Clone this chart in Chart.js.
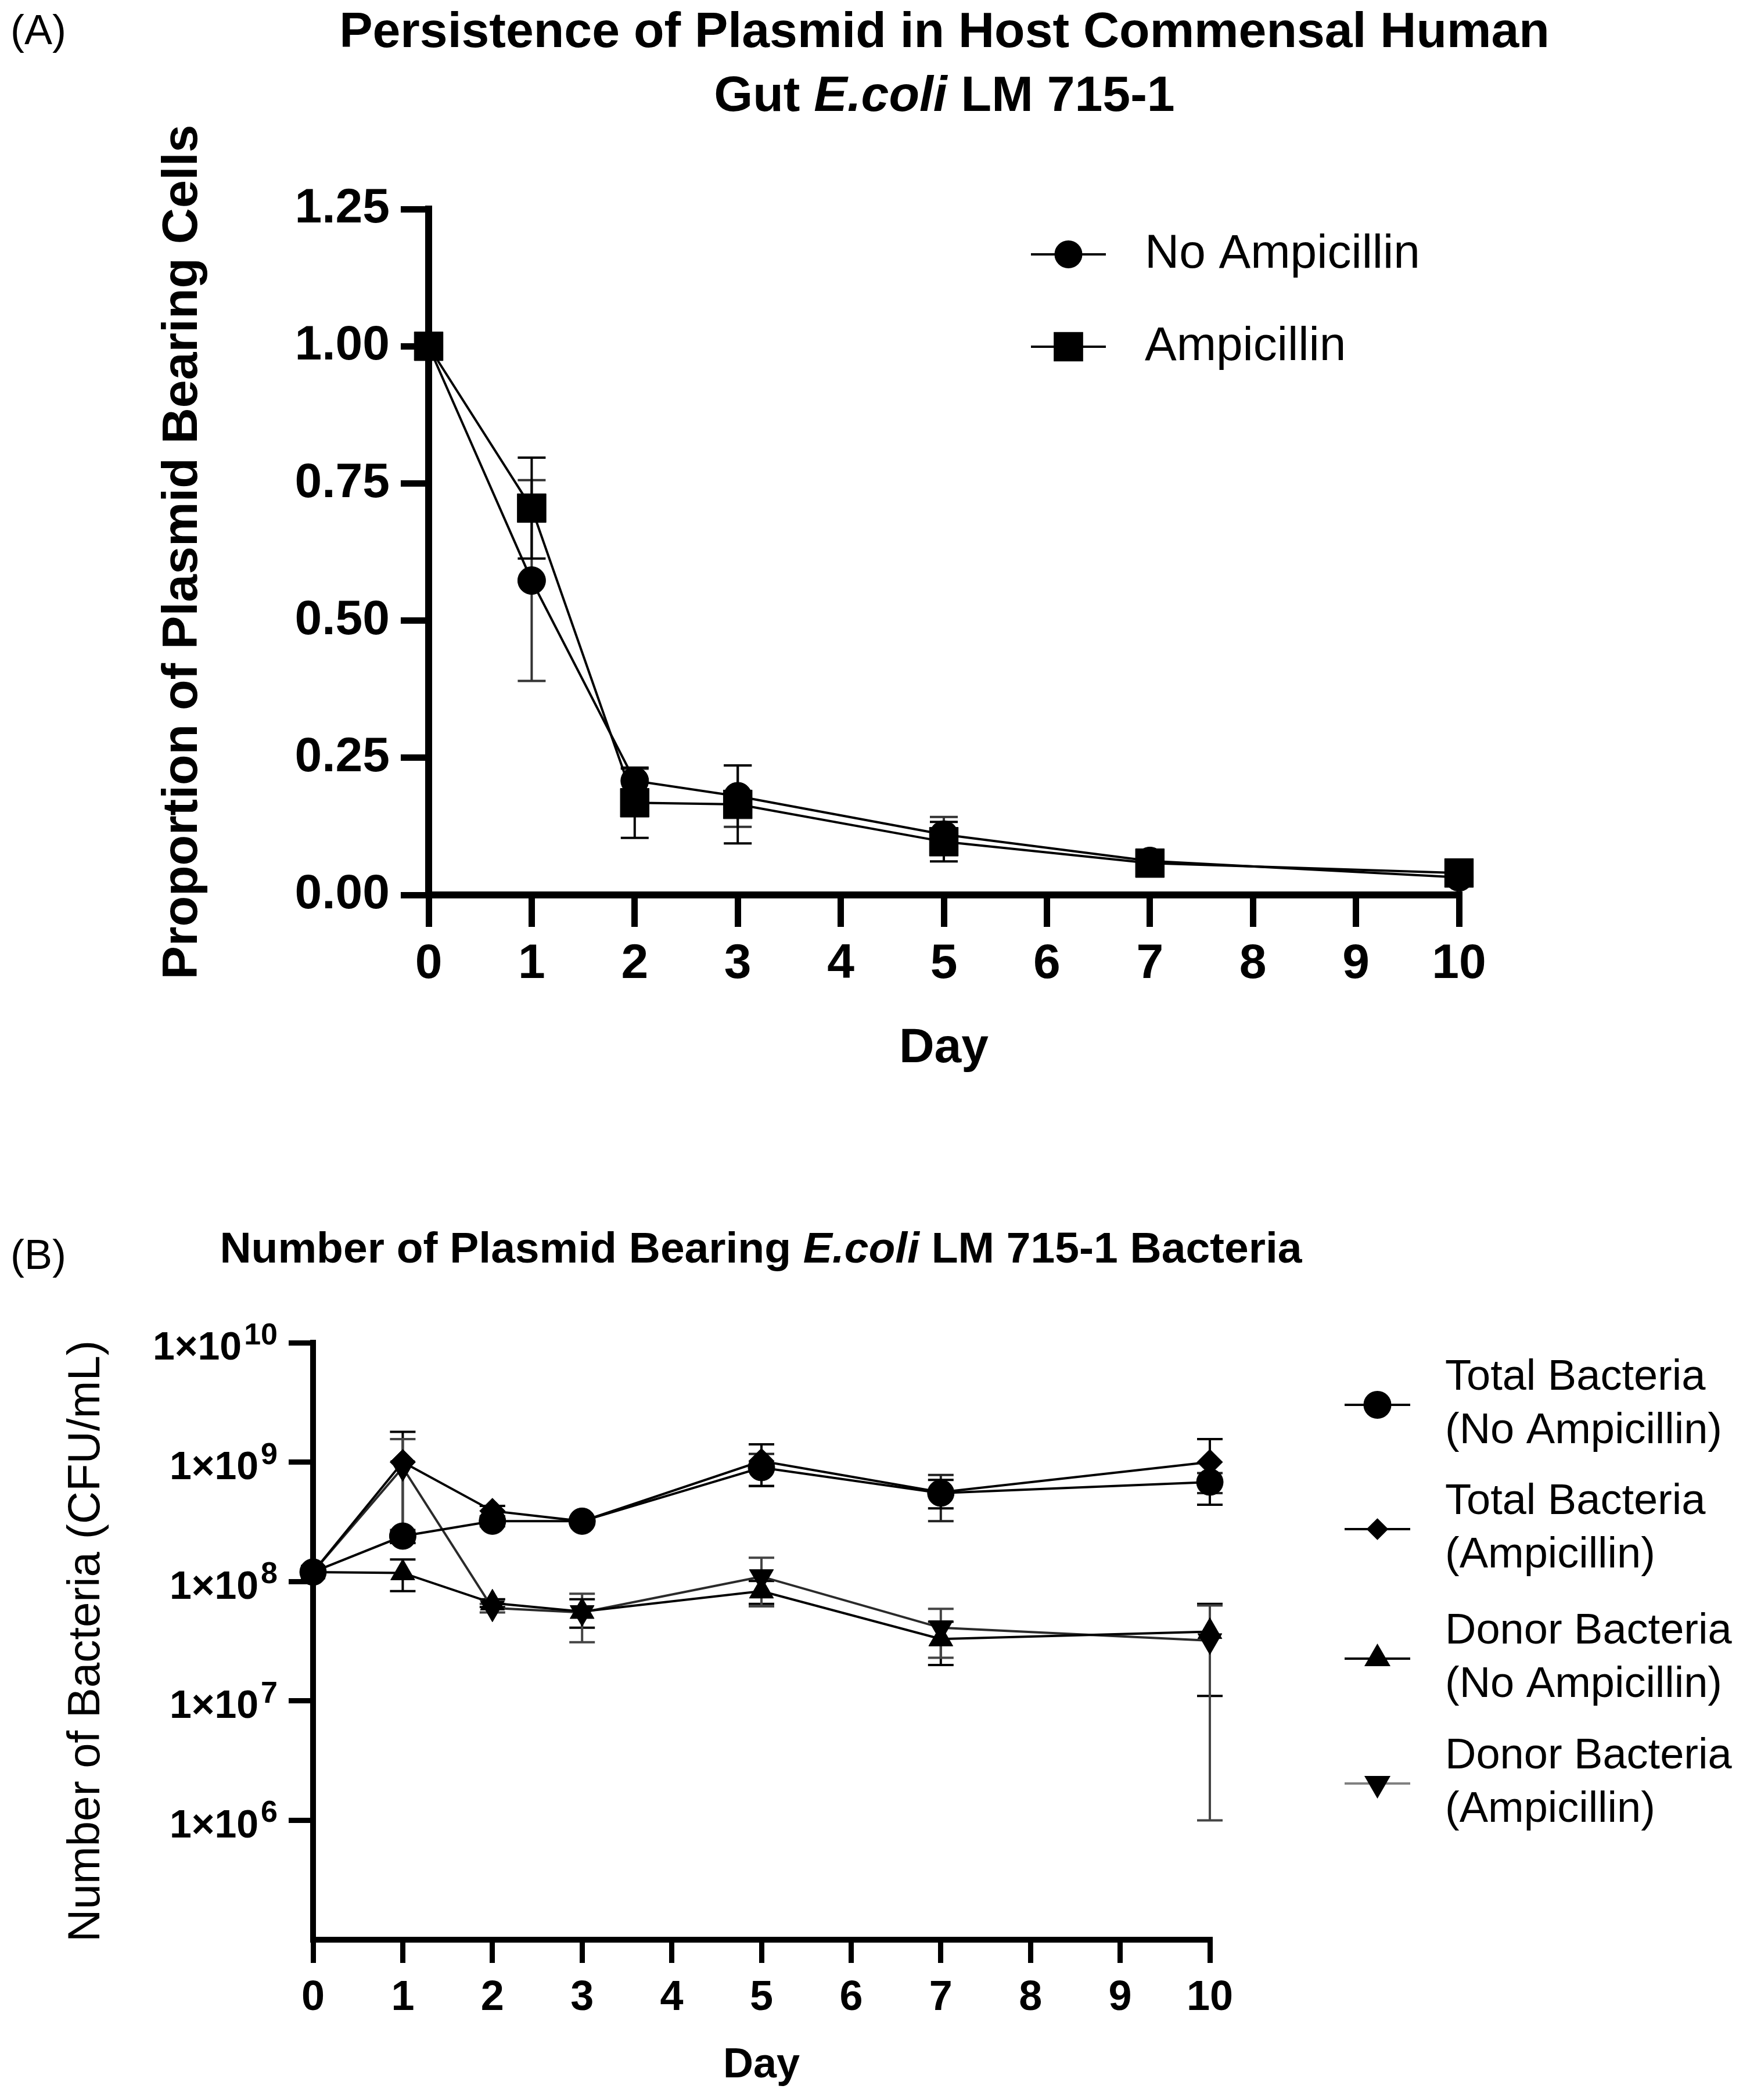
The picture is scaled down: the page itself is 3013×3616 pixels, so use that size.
<!DOCTYPE html>
<html lang="en">
<head>
<meta charset="UTF-8">
<title>Plasmid persistence in E. coli LM 715-1</title>
<style>
  * { margin: 0; padding: 0; box-sizing: border-box; }
  body { background: #fff; width: 3013px; height: 3616px; position: relative; overflow: hidden;
         font-family: 'Liberation Sans', Arial, sans-serif; color: #000; }
  canvas { position: absolute; left: 0; }
  #chartA { top: 0; }
  #chartB { top: 1900px; }
  .panel-tag { position: absolute; left: 18px; font-weight: normal; }
  .title { position: absolute; font-weight: bold; text-align: center; white-space: nowrap; }
  #titleA { left: 0; width: 3252px; top: -4px; font-size: 86px; line-height: 110px; }
  #titleB { left: 0; width: 2620px; top: 2111px; font-size: 75px; line-height: 75px; }
  #tagA { top: 15px; font-size: 72px; line-height: 72px; }
  #tagB { top: 2124px; font-size: 72px; line-height: 72px; }
</style>
</head>
<body>
<div id="tagA" class="panel-tag">(A)</div>
<div id="titleA" class="title">Persistence of Plasmid in Host Commensal Human<br>Gut <i>E.coli</i> LM 715-1</div>
<canvas id="chartA" width="3013" height="1900"></canvas>

<div id="tagB" class="panel-tag">(B)</div>
<div id="titleB" class="title">Number of Plasmid Bearing <i>E.coli</i> LM 715-1 Bacteria</div>
<canvas id="chartB" width="3013" height="1716"></canvas>

<script src="https://cdn.jsdelivr.net/npm/chart.js"></script>
<script>
  // sampling days (shared by both panels)
  const days = [0, 1, 2, 3, 5, 7, 10];

  // panel A - proportion of plasmid bearing cells (mean, SD)
  const seriesA = ['No Ampicillin', 'Ampicillin'];
  const propNoAmp   = [1.00, 0.573, 0.208, 0.180, 0.110, 0.062, 0.032];
  const propNoAmpSd = [0, 0.183, 0.022, 0.056, 0.032, 0.006, 0.004];
  const propAmp     = [1.00, 0.705, 0.168, 0.165, 0.097, 0.058, 0.040];
  const propAmpSd   = [0, 0.092, 0.064, 0.071, 0.036, 0.008, 0.006];

  // panel B - CFU/mL (mean, SD)
  const seriesB = [
    ['Total Bacteria', '(No Ampicillin)'],
    ['Total Bacteria', '(Ampicillin)'],
    ['Donor Bacteria', '(No Ampicillin)'],
    ['Donor Bacteria', '(Ampicillin)']
  ];
  const totalNoAmp   = [1.2e8, 2.4e8, 3.2e8, 3.2e8, 9.0e8, 5.5e8, 6.8e8];
  const totalNoAmpSd = [0, 3e7, 3e7, 2e7, 2.7e8, 2.3e8, 1.3e8];
  const totalAmp     = [1.2e8, 1.0e9, 3.9e8, 3.2e8, 1.02e9, 5.6e8, 1.0e9];
  const totalAmpSd   = [0, 7.9e8, 4e7, 2e7, 3.9e8, 1.5e8, 5.6e8];
  const donorNoAmp   = [1.2e8, 1.18e8, 6.6e7, 5.6e7, 8.3e7, 3.3e7, 3.8e7];
  const donorNoAmpSd = [0, 3.5e7, 5e6, 1.5e7, 1.8e7, 1.3e7, 2.7e7];
  const donorAmp     = [1.2e8, 9.0e8, 6.0e7, 5.5e7, 1.1e8, 4.1e7, 3.2e7];
  const donorAmpSd   = [0, 6.6e8, 5e6, 2.4e7, 4.8e7, 1.8e7, 3.1e7];

  // tick labels
  const xTickDays = [0, 1, 2, 3, 4, 5, 6, 7, 8, 9, 10];
  const yTickExpB = [6, 7, 8, 9, 10];

  Chart.defaults.font.family = "'Liberation Sans', Arial, sans-serif";
  Chart.defaults.color = '#000';

  const pts = vals => days.map((d, i) => ({ x: d, y: vals[i] }));

  // vertical SD bars with caps, drawn under the markers
  const errorBars = {
    id: 'errorBars',
    beforeDatasetsDraw(chart, args, opts) {
      const ctx = chart.ctx, xs = chart.scales.x, ys = chart.scales.y;
      chart.data.datasets.forEach(ds => {
        if (!ds.errors) return;
        ctx.save();
        ctx.strokeStyle = ds.errorColor || '#000';
        ctx.lineWidth = opts.lineWidth;
        ds.data.forEach((p, j) => {
          const sd = ds.errors[j];
          if (!sd) return;
          const px = xs.getPixelForValue(p.x);
          const top = ys.getPixelForValue(p.y + sd);
          const low = p.y - sd;
          const bottom = ys.getPixelForValue(Math.max(low, ys.min));
          ctx.beginPath();
          ctx.moveTo(px, top); ctx.lineTo(px, bottom);
          ctx.moveTo(px - opts.cap, top); ctx.lineTo(px + opts.cap, top);
          if (low > ys.min) { ctx.moveTo(px - opts.cap, bottom); ctx.lineTo(px + opts.cap, bottom); }
          ctx.stroke();
        });
        ctx.restore();
      });
    }
  };

  // legend: line segment with the marker in the middle, text to the right
  const sideLegend = {
    id: 'sideLegend',
    afterDraw(chart, args, o) {
      const ctx = chart.ctx;
      ctx.save();
      ctx.font = o.fontSize + 'px ' + Chart.defaults.font.family;
      ctx.textBaseline = 'middle';
      ctx.textAlign = 'left';
      o.names.forEach((name, i) => {
        const ds = chart.data.datasets[i];
        const y = o.rows[i];
        ctx.strokeStyle = o.lineColors ? o.lineColors[i] : ds.borderColor;
        ctx.lineWidth = 4;
        ctx.beginPath();
        ctx.moveTo(o.lineFrom, y); ctx.lineTo(o.lineTo, y);
        ctx.stroke();
        ctx.fillStyle = '#000';
        ctx.strokeStyle = '#000';
        Chart.helpers.drawPoint(ctx, {
          pointStyle: ds.pointStyle,
          radius: (o.radius && o.radius[i]) || ds.pointRadius,
          rotation: ds.pointRotation || 0,
          borderWidth: 1
        }, (o.lineFrom + o.lineTo) / 2, y);
        ctx.fillStyle = '#000';
        const lines = Array.isArray(name) ? name : [name];
        lines.forEach((t, k) => {
          const dy = (k - (lines.length - 1) / 2) * o.lineGap;
          ctx.fillText(t, o.textX, y + dy);
        });
      });
      ctx.restore();
    }
  };

  // y tick labels of panel B as 1x10^n with raised exponent
  const expTicks = {
    id: 'expTicks',
    afterDraw(chart, args, o) {
      const ctx = chart.ctx, ys = chart.scales.y;
      const fam = Chart.defaults.font.family;
      ctx.save();
      ctx.fillStyle = '#000';
      ctx.textBaseline = 'alphabetic';
      ctx.textAlign = 'left';
      yTickExpB.forEach(n => {
        const y = ys.getPixelForValue(Math.pow(10, n));
        ctx.font = 'bold ' + o.expSize + 'px ' + fam;
        const ew = ctx.measureText(String(n)).width;
        ctx.font = 'bold ' + o.baseSize + 'px ' + fam;
        const base = '1\u00d710';
        const bw = ctx.measureText(base).width;
        const x0 = o.right - ew - bw - 4;
        ctx.fillText(base, x0, y + o.baseSize * 0.36 + 5);
        ctx.font = 'bold ' + o.expSize + 'px ' + fam;
        ctx.fillText(String(n), x0 + bw + 4, y + 3);
      });
      ctx.restore();
    }
  };

  const axisBase = (tickLen, lw) => ({
    grid: { drawOnChartArea: false, drawTicks: true, tickLength: tickLen, lineWidth: lw, color: '#000' },
    border: { display: true, width: lw + 1, color: '#000' }
  });

  // ---------------- Panel A ----------------
  new Chart(document.getElementById('chartA'), {
    type: 'line',
    data: {
      datasets: [
        {
          label: seriesA[0], data: pts(propNoAmp), errors: propNoAmpSd, errorColor: '#333',
          borderColor: '#000', borderWidth: 4, pointStyle: 'circle', pointRadius: 24,
          pointBackgroundColor: '#000', pointBorderColor: '#000', pointBorderWidth: 1,
          tension: 0, clip: false, order: 1
        },
        {
          label: seriesA[1], data: pts(propAmp), errors: propAmpSd, errorColor: '#000',
          borderColor: '#000', borderWidth: 4, pointStyle: 'rect', pointRadius: 35,
          pointBackgroundColor: '#000', pointBorderColor: '#000', pointBorderWidth: 1,
          tension: 0, clip: false, order: 0
        }
      ]
    },
    options: {
      responsive: false,
      animation: false,
      events: [],
      layout: { padding: { left: 260, top: 360, right: 501, bottom: 40 } },
      plugins: {
        legend: { display: false },
        tooltip: { enabled: false },
        errorBars: { lineWidth: 4, cap: 24 },
        sideLegend: { names: seriesA, rows: [438, 597], lineFrom: 1775, lineTo: 1904, textX: 1971,
                      fontSize: 82, lineGap: 0, radius: [22, 33] }
      },
      scales: {
        x: Object.assign(axisBase(55, 11), {
          type: 'linear', min: 0, max: 10,
          afterBuildTicks: s => { s.ticks = xTickDays.map(v => ({ value: v })); },
          ticks: { padding: 14, font: { size: 84, weight: 'bold' }, maxRotation: 0 },
          title: { display: true, text: 'Day', font: { size: 84, weight: 'bold' } },
          afterFit: s => { s.height = 319; }
        }),
        y: Object.assign(axisBase(48, 11), {
          type: 'linear', min: 0, max: 1.25,
          ticks: { stepSize: 0.25, padding: 19, font: { size: 84, weight: 'bold' },
                   callback: v => v.toFixed(2) },
          title: { display: true, text: 'Proportion of Plasmid Bearing Cells', font: { size: 86, weight: 'bold' } },
          afterFit: s => { s.width = 478; }
        })
      }
    },
    plugins: [errorBars, sideLegend]
  });

  // ---------------- Panel B ----------------
  new Chart(document.getElementById('chartB'), {
    type: 'line',
    data: {
      datasets: [
        {
          label: seriesB[0].join(' '), data: pts(totalNoAmp), errors: totalNoAmpSd, errorColor: '#222',
          borderColor: '#000', borderWidth: 4, pointStyle: 'circle', pointRadius: 23,
          pointBackgroundColor: '#000', pointBorderColor: '#000', pointBorderWidth: 1,
          tension: 0, clip: false
        },
        {
          label: seriesB[1].join(' '), data: pts(totalAmp), errors: totalAmpSd, errorColor: '#000',
          borderColor: '#000', borderWidth: 4, pointStyle: 'rectRot', pointRadius: 22,
          pointBackgroundColor: '#000', pointBorderColor: '#000', pointBorderWidth: 1,
          tension: 0, clip: false
        },
        {
          label: seriesB[2].join(' '), data: pts(donorNoAmp), errors: donorNoAmpSd, errorColor: '#000',
          borderColor: '#000', borderWidth: 4, pointStyle: 'triangle', pointRadius: 24,
          pointBackgroundColor: '#000', pointBorderColor: '#000', pointBorderWidth: 1,
          tension: 0, clip: false
        },
        {
          label: seriesB[3].join(' '), data: pts(donorAmp), errors: donorAmpSd, errorColor: '#444',
          borderColor: '#2a2a2a', borderWidth: 4, pointStyle: 'triangle', pointRotation: 180, pointRadius: 24,
          pointBackgroundColor: '#000', pointBorderColor: '#000', pointBorderWidth: 1,
          tension: 0, clip: false
        }
      ]
    },
    options: {
      responsive: false,
      animation: false,
      events: [],
      layout: { padding: { left: 99, top: 412, right: 930, bottom: 12 } },
      plugins: {
        legend: { display: false },
        tooltip: { enabled: false },
        errorBars: { lineWidth: 4, cap: 22 },
        sideLegend: { names: seriesB, rows: [519, 733, 956, 1171], lineFrom: 2315, lineTo: 2428, textX: 2488,
                      fontSize: 74, lineGap: 92, radius: [22, 16, 22, 22],
                      lineColors: ['#000', '#000', '#000', '#808080'] },
        expTicks: { right: 478, baseSize: 68, expSize: 52 }
      },
      scales: {
        x: Object.assign(axisBase(40, 9), {
          type: 'linear', min: 0, max: 10,
          afterBuildTicks: s => { s.ticks = xTickDays.map(v => ({ value: v })); },
          ticks: { padding: 18, font: { size: 72, weight: 'bold' }, maxRotation: 0 },
          title: { display: true, text: 'Day', font: { size: 72, weight: 'bold' } },
          afterFit: s => { s.height = 264; }
        }),
        y: Object.assign(axisBase(42, 9), {
          type: 'logarithmic', min: 1e5, max: 1e10,
          afterBuildTicks: s => { s.ticks = yTickExpB.map(n => ({ value: Math.pow(10, n) })); },
          ticks: { padding: 18, font: { size: 64, weight: 'bold' }, callback: () => '' },
          title: { display: true, text: 'Number of Bacteria (CFU/mL)', font: { size: 78, weight: 'normal' } },
          afterFit: s => { s.width = 440; }
        })
      }
    },
    plugins: [errorBars, sideLegend, expTicks]
  });
</script>
</body>
</html>
